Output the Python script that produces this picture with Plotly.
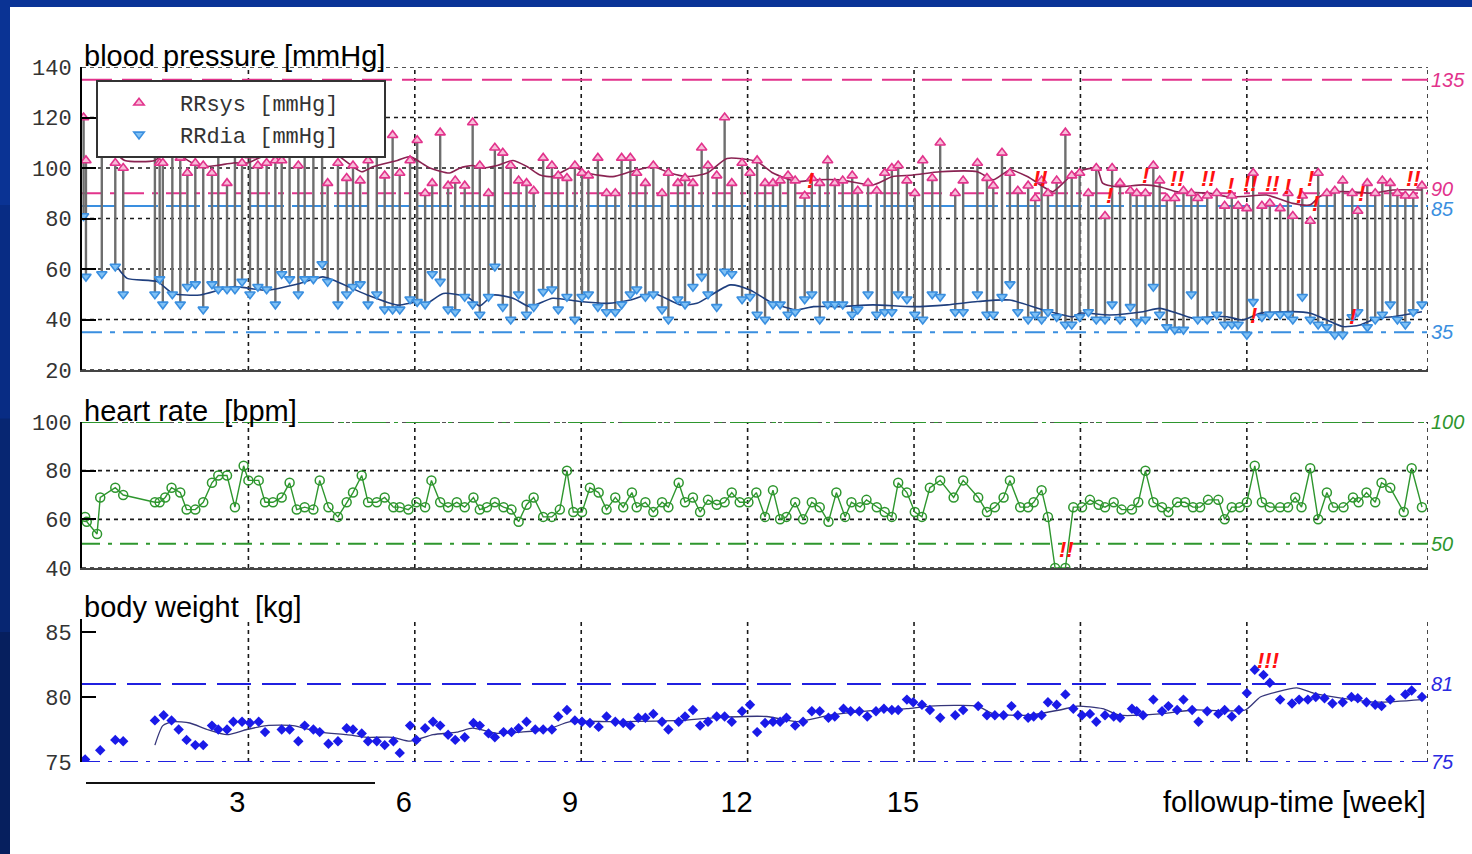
import plotly.graph_objects as go

# ---------------- data (days since start of follow-up) ----------------
bp_day = [0.2, 0.5, 2.5, 4.2, 5.2, 9.2, 9.8, 10.2, 11.4, 12.4,
          13.3, 14.3, 15.3, 16.4, 17.2, 18.3, 19.3, 20.2, 21.2, 22.2,
          23.3, 24.4, 25.2, 26.2, 27.3, 28.1, 29.2, 30.3, 31.0, 32.3,
          33.4, 34.2, 35.1, 36.1, 37.2, 38.2, 39.2, 40.1, 41.4, 42.3,
          43.3, 44.2, 45.2, 46.2, 47.1, 48.3, 49.3, 50.2, 51.3, 52.1,
          53.1, 54.1, 55.1, 56.1, 57.0, 58.2, 59.3, 60.1, 61.2, 62.2,
          63.1, 63.9, 65.1, 66.2, 67.3, 68.1, 69.2, 70.0, 71.1, 72.1,
          73.2, 74.0, 75.2, 76.1, 77.1, 78.2, 79.0, 80.1, 81.1, 82.0,
          83.3, 84.3, 85.2, 86.2, 87.2, 88.1, 89.1, 90.0, 91.2, 92.1,
          93.1, 94.1, 95.0, 96.0, 97.2, 97.9, 99.2, 100.3, 101.3, 102.2,
          103.0, 104.1, 105.1, 106.1, 107.3, 108.3, 110.2, 111.2, 113.0, 114.2,
          115.0, 116.1, 117.1, 118.1, 119.4, 120.3, 121.1, 121.9, 123.0, 124.1,
          124.9, 125.9, 127.0, 128.0, 129.1, 130.0, 131.0, 132.3, 133.1, 134.2,
          135.2, 136.0, 136.9, 137.9, 139.0, 140.0, 140.8, 142.0, 143.2, 144.2,
          145.1, 145.9, 147.0, 147.8, 148.9, 149.9, 151.2, 152.2, 152.8, 154.0,
          155.0, 156.0, 157.1, 158.1, 159.1, 160.3, 161.0, 162.2, 163.2, 164.1,
          165.1, 166.0, 167.0, 168.0, 169.1]
rr_sys = [120, 103, 106, 102, 100, 106, 102, 102, 108, 104,
          98, 102, 101, 98, 108, 94, 106, 102, 105, 101,
          102, 103, 103, 106, 101, 108, 110, 113, 94, 102,
          96, 101, 95, 103, 106, 97, 113, 98, 103, 111,
          90, 94, 114, 93, 95, 93, 118, 101, 90, 108,
          106, 101, 95, 94, 91, 104, 101, 97, 96, 101,
          98, 97, 104, 90, 90, 104, 104, 98, 94, 101,
          90, 98, 94, 96, 94, 108, 101, 97, 120, 94,
          102, 98, 103, 94, 94, 95, 97, 95, 89, 96,
          94, 103, 94, 95, 97, 91, 94, 91, 98, 100,
          101, 95, 90, 103, 96, 110, 90, 95, 102, 96,
          93, 106, 98, 91, 93, 88, 95, 90, 95, 114,
          97, 98, 90, 100, 81, 100, 94, 91, 90, 90,
          101, 95, 88, 88, 91, 90, 88, 89, 90, 85,
          89, 85, 84, 98, 85, 86, 84, 90, 81, 89,
          79, 98, 90, 91, 95, 90, 83, 94, 90, 95,
          94, 90, 89, 89, 93]
rr_dia = [81, 57, 58, 61, 50, 50, 56, 46, 50, 46,
          53, 54, 44, 54, 52, 52, 52, 55, 50, 53,
          52, 46, 58, 56, 50, 56, 56, 62, 55, 46,
          50, 53, 54, 46, 50, 44, 44, 44, 48, 47,
          46, 58, 55, 44, 43, 49, 46, 42, 49, 61,
          45, 40, 50, 42, 45, 51, 52, 44, 49, 40,
          49, 50, 45, 43, 43, 46, 50, 52, 49, 50,
          44, 40, 48, 46, 53, 57, 50, 45, 59, 58,
          48, 49, 42, 40, 46, 46, 42, 43, 48, 50,
          40, 46, 46, 46, 42, 44, 50, 42, 43, 43,
          50, 48, 42, 40, 50, 49, 43, 43, 50, 42,
          42, 49, 54, 43, 40, 42, 40, 43, 41, 38,
          38, 41, 43, 40, 40, 46, 40, 45, 39, 40,
          53, 42, 37, 36, 36, 50, 40, 40, 42, 38,
          38, 38, 34, 47, 41, 42, 42, 42, 40, 49,
          40, 38, 37, 34, 34, 41, 43, 37, 40, 42,
          46, 40, 38, 43, 46]

sys_trend_day = [4.2, 5.4, 9.2, 11.1, 12.6, 14.9, 17.0, 19.1, 20.9, 22.8,
                 27.5, 29.8, 31.7, 35.3, 36.7, 39.8, 41.4, 43.9, 46.4, 47.7,
                 49.3, 50.2, 52.4, 54.4, 56.2, 57.8, 59.4, 62.0, 63.7, 67.0,
                 69.2, 72.1, 74.2, 76.4, 78.9, 81.4, 85.2, 87.2, 90.2, 92.3,
                 95.7, 99.8, 102.3, 104.9, 108.3, 113.0, 115.0, 117.1, 119.3, 121.3,
                 122.5, 124.7, 126.3, 128.1, 128.8, 130.6, 133.9, 136.0, 138.2, 142.4,
                 144.5, 146.5, 149.5, 152.8, 155.0, 156.2, 157.9, 160.4, 162.9, 165.4,
                 169.1]
sys_trend = [106, 103, 103, 108, 104.5, 100.5, 101, 102, 102, 104.5,
             105, 109.7, 106.4, 98.5, 100.5, 103, 104.5, 100, 98, 100,
             101, 100, 101, 103, 100.5, 97.2, 96.6, 100.5, 98, 96.6,
             98.5, 100.5, 98, 96.6, 98, 103.8, 102.5, 98, 94.6, 95.3,
             95.3, 93.3, 96.6, 97.2, 98.5, 98.5, 95.3, 99.2, 96.6, 92.6,
             90.6, 96.6, 99.2, 99.9, 94, 92.6, 93.3, 92.6, 90.6, 90,
             88.7, 88.7, 89.3, 86, 85.4, 88.7, 90.6, 90.6, 90, 91.3,
             91.3]
dia_trend_day = [4.4, 5.7, 9.5, 11.5, 14.9, 19.1, 23.3, 27.5, 30.4, 31.7,
                 36.0, 39.8, 42.3, 43.5, 45.6, 48.6, 50.2, 51.9, 54.4, 56.5,
                 59.4, 62.8, 66.3, 69.2, 72.1, 75.5, 77.6, 81.8, 84.3, 87.2,
                 90.2, 92.3, 95.7, 99.8, 104.9, 109.2, 113.0, 117.1, 121.3, 125.1,
                 125.9, 129.7, 133.9, 136.0, 138.2, 140.2, 142.4, 144.5, 146.5, 148.7,
                 152.8, 155.0, 157.1, 159.1, 161.3, 163.4, 165.4, 169.1]
dia_trend = [61, 56.3, 55, 50.3, 49.7, 53, 51.6, 54.3, 56.9, 55.6,
             49.7, 45.7, 47, 46.4, 50.3, 49, 45.4, 49.7, 48.4, 45.1,
             48.4, 47.1, 46.4, 47.7, 50.4, 45.8, 46.4, 53.7, 51.7, 46.4,
             43.8, 45.1, 45.1, 45.8, 45.1, 45.8, 47.1, 47.7, 43.8, 41.1,
             42.5, 41.8, 43.1, 44.4, 42.5, 40.5, 41.1, 41.1, 39.8, 42.5,
             43.1, 42.5, 39.8, 37.2, 37.8, 40.5, 41.1, 43.1]

hr_day = [0.4, 0.6, 1.9, 2.3, 4.2, 5.2, 9.2, 9.8, 10.5, 11.3,
          12.4, 13.2, 14.3, 15.3, 16.4, 17.2, 18.3, 19.3, 20.4, 21.0,
          22.3, 23.1, 24.1, 25.2, 26.2, 27.1, 28.1, 29.2, 30.0, 31.1,
          32.3, 33.4, 34.2, 35.3, 36.1, 37.2, 38.2, 39.3, 40.1, 41.2,
          42.2, 43.3, 44.1, 45.2, 46.2, 47.3, 48.3, 49.4, 50.2, 51.1,
          52.1, 53.2, 54.2, 55.1, 56.1, 57.0, 58.2, 59.3, 60.3, 61.2,
          62.0, 63.1, 64.1, 65.2, 66.2, 67.3, 68.3, 69.4, 70.0, 71.1,
          72.1, 73.2, 74.0, 75.3, 76.1, 77.1, 78.0, 79.0, 80.1, 81.1,
          82.0, 83.0, 84.1, 85.1, 86.2, 87.2, 88.1, 88.9, 90.0, 91.0,
          92.1, 93.1, 94.2, 95.2, 96.3, 97.1, 98.2, 99.0, 100.3, 101.3,
          102.2, 103.0, 104.1, 105.1, 106.0, 107.0, 108.3, 110.0, 111.2, 113.1,
          114.2, 115.2, 116.3, 117.1, 118.4, 119.4, 120.1, 121.1, 121.9, 122.8,
          124.1, 125.1, 126.2, 127.2, 128.3, 129.1, 130.2, 131.2, 132.5, 133.3,
          134.2, 135.2, 136.3, 137.1, 138.2, 139.2, 140.2, 141.1, 142.1, 143.4,
          144.2, 145.1, 146.1, 147.0, 148.0, 148.9, 149.9, 151.2, 152.2, 153.1,
          153.9, 155.0, 156.0, 157.1, 157.9, 159.2, 160.4, 161.1, 162.1, 163.2,
          164.0, 165.1, 166.8, 167.8, 169.1]
hr_bpm = [61, 59, 54, 69, 73, 70, 67, 67, 69, 73,
          71, 64, 64, 67, 75, 78, 78, 65, 82, 76,
          76, 67, 67, 69, 75, 64, 65, 64, 76, 65,
          61, 67, 71, 78, 67, 67, 69, 65, 65, 64,
          67, 65, 76, 67, 65, 67, 65, 69, 64, 65,
          67, 65, 64, 59, 66, 69, 61, 61, 64, 80,
          63, 63, 73, 71, 64, 69, 65, 71, 65, 67,
          63, 67, 65, 75, 67, 69, 63, 68, 66, 67,
          71, 67, 67, 71, 61, 72, 60, 61, 67, 60,
          67, 65, 59, 71, 61, 67, 65, 68, 65, 63,
          61, 75, 71, 63, 61, 73, 76, 69, 76, 69,
          63, 65, 69, 76, 65, 65, 67, 72, 61, 40,
          40, 65, 65, 68, 66, 65, 67, 64, 64, 67,
          80, 67, 65, 63, 67, 67, 65, 65, 68, 68,
          60, 65, 65, 67, 82, 67, 65, 65, 65, 69,
          65, 81, 60, 71, 65, 65, 69, 67, 71, 67,
          75, 73, 63, 81, 65]

wt_day = [0.4, 2.3, 4.2, 5.2, 9.2, 10.3, 11.3, 12.2, 13.2, 14.3,
          15.3, 16.4, 17.2, 18.3, 19.1, 20.2, 21.2, 22.3, 23.1, 25.2,
          26.2, 27.3, 28.1, 29.2, 30.0, 31.1, 32.3, 33.4, 34.2, 35.3,
          36.1, 37.2, 38.2, 39.3, 40.1, 41.4, 42.2, 43.3, 44.3, 45.2,
          46.2, 47.1, 48.3, 49.4, 50.2, 51.3, 52.1, 53.2, 54.2, 55.1,
          56.1, 57.2, 58.2, 59.3, 60.1, 61.2, 62.2, 63.1, 64.1, 65.2,
          66.2, 67.3, 68.3, 69.2, 70.2, 71.1, 72.1, 73.2, 74.0, 75.3,
          76.1, 77.1, 78.0, 79.0, 80.1, 81.1, 82.0, 83.3, 84.3, 85.2,
          86.2, 87.2, 88.1, 88.9, 90.0, 91.0, 92.1, 93.1, 94.2, 95.0,
          96.1, 97.0, 98.1, 99.1, 100.2, 101.2, 102.2, 103.0, 104.1, 104.9,
          106.0, 107.0, 108.3, 110.2, 111.2, 113.1, 114.2, 115.2, 116.3, 117.3,
          118.1, 119.4, 120.1, 121.1, 121.9, 123.0, 124.1, 125.1, 126.2, 127.2,
          128.0, 129.1, 130.2, 131.0, 132.5, 133.1, 133.9, 135.2, 136.3, 137.1,
          138.2, 139.0, 140.1, 140.9, 142.0, 143.4, 144.2, 145.1, 146.0, 147.0,
          148.0, 149.1, 149.9, 151.2, 152.7, 153.6, 154.7, 155.7, 156.8, 157.8,
          159.1, 160.2, 161.0, 162.1, 163.2, 164.0, 165.1, 167.0, 167.8, 169.1]
wt_kg = [75.2, 75.9, 76.7, 76.6, 78.2, 78.6, 78.2, 77.5, 76.7, 76.3,
         76.3, 77.8, 77.5, 77.5, 78.1, 78.1, 78.0, 78.1, 77.3, 77.5,
         77.5, 76.6, 77.8, 77.5, 77.3, 76.4, 76.6, 77.6, 77.5, 77.2,
         76.6, 76.6, 76.3, 76.6, 75.7, 77.8, 76.7, 77.6, 78.1, 77.8,
         77.1, 76.7, 76.9, 78.0, 77.8, 77.2, 76.9, 77.3, 77.3, 77.6,
         78.1, 77.5, 77.5, 77.5, 78.5, 79.0, 78.2, 78.1, 78.0, 77.7,
         78.5, 78.1, 78.0, 77.8, 78.4, 78.4, 78.7, 78.1, 77.5, 78.1,
         78.5, 79.0, 77.8, 78.1, 78.5, 78.5, 78.1, 78.9, 79.4, 77.3,
         78.0, 78.1, 78.1, 78.4, 77.8, 78.1, 78.9, 78.9, 78.4, 78.5,
         79.1, 78.9, 78.9, 78.5, 78.9, 79.1, 79.0, 79.0, 79.8, 79.6,
         79.4, 79.0, 78.4, 78.6, 79.0, 79.3, 78.6, 78.6, 78.6, 79.3,
         78.6, 78.4, 78.5, 78.6, 79.6, 79.4, 80.2, 79.1, 78.6, 78.7,
         78.1, 78.6, 78.5, 78.4, 79.1, 78.9, 78.6, 79.8, 78.9, 79.3,
         79.0, 79.8, 79.0, 78.1, 78.9, 78.7, 79.0, 78.5, 79.0, 80.3,
         82.1, 81.7, 81.1, 79.8, 79.5, 79.8, 79.8, 80.0, 79.9, 79.5,
         79.6, 80.0, 79.9, 79.6, 79.4, 79.3, 79.8, 80.2, 80.5, 80.0]
wt_trend_day = [9.2, 10.2, 11.5, 13.6, 15.8, 18.3, 20.8, 23.3, 26.6, 30.0,
                33.4, 36.0, 39.2, 41.4, 44.3, 47.3, 49.3, 52.4, 55.3, 58.7,
                61.6, 67.0, 75.5, 79.6, 86.4, 90.2, 94.4, 98.6, 104.1, 107.0,
                113.0, 115.0, 119.3, 123.4, 125.6, 128.8, 131.0, 136.0, 140.2, 146.8,
                148.7, 150.8, 153.3, 155.4, 159.1, 163.4, 169.1]
wt_trend = [76.3, 77.8, 78.1, 78.0, 77.5, 77.1, 77.5, 77.8, 77.8, 77.3,
            77.1, 76.9, 76.9, 76.6, 77.1, 77.3, 77.6, 77.2, 77.3, 77.5,
            78.1, 78.1, 78.2, 78.4, 78.5, 78.1, 78.6, 78.9, 79.1, 79.3,
            79.3, 78.7, 78.6, 79.0, 79.3, 79.1, 78.6, 78.7, 79.0, 79.0,
            80.0, 80.4, 80.7, 80.3, 79.9, 79.6, 79.8]

# alert marks ("!") : day, value, text
bp_alert_day = [91.9, 120.9, 129.7, 134.2, 138.3, 142.1, 144.9, 147.4, 150.2,
                152.1, 153.7, 155.0, 155.7, 161.5, 168.0, 147.8, 160.3]
bp_alert_val = [95, 96, 89, 97, 96, 96, 93, 94, 94, 92.5, 89, 96, 86, 90, 96, 41.4, 41]
bp_alert_txt = ["!", "!!", "!", "!", "!!", "!!", "!", "!!", "!!", "!", "!", "!", "!",
                "!", "!!", "!", "!"]
hr_alert_day, hr_alert_val, hr_alert_txt = [124.2], [47.4], ["!!"]
wt_alert_day, wt_alert_val, wt_alert_txt = [149.7], [82.8], ["!!!"]

# limits
bp_limits = [135, 90, 85, 35]
hr_limits = [100, 50]
wt_limits = [81, 75]

week_ticks = [3, 6, 9, 12, 15]
grid_weeks = [3, 6, 9, 12, 15, 18, 21]

assert len(bp_day) == len(rr_sys) == len(rr_dia)
assert len(hr_day) == len(hr_bpm)
assert len(wt_day) == len(wt_kg)

# ---------------- layout geometry ----------------
W, H = 1472, 854
L, R = 82, 44
PW = W - L - R
XMAX = 24.266  # weeks at right border


def wk(days):
    return [d / 7.0 for d in days]


def py(p):
    return (H - p) / H


def px(p):
    return (p - L) / PW


dom_bp = [py(370), py(67)]
dom_hr = [py(568), py(422)]
dom_wt = [py(762), py(619)]

PINK = "#e2338c"
LBLUE = "#3a8fe0"
GREEN = "#2e962e"
DBLUE = "#1a1ae8"
SANS = "Liberation Sans, Arial, sans-serif"
MONO = "Liberation Mono, Courier New, monospace"
PAD = "\u00a0\u00a0\u00a0"  # keeps the legend box as wide as in the original

fig = go.Figure()

# stems from diastolic to systolic
sx, sy = [], []
for d, s, di in zip(wk(bp_day), rr_sys, rr_dia):
    sx += [d, d, None]
    sy += [di, s, None]
fig.add_trace(go.Scatter(x=sx, y=sy, mode="lines", line=dict(color="#6e6e6e", width=2.4),
                         showlegend=False, hoverinfo="skip", xaxis="x", yaxis="y"))
fig.add_trace(go.Scatter(x=wk(sys_trend_day), y=sys_trend, mode="lines",
                         line=dict(color="#8a2352", width=1.6, shape="spline", smoothing=0.6),
                         showlegend=False, xaxis="x", yaxis="y"))
fig.add_trace(go.Scatter(x=wk(dia_trend_day), y=dia_trend, mode="lines",
                         line=dict(color="#1f3f7e", width=1.6, shape="spline", smoothing=0.6),
                         showlegend=False, xaxis="x", yaxis="y"))
fig.add_trace(go.Scatter(x=wk(bp_day), y=rr_sys, mode="markers", name="RRsys [mmHg]" + PAD,
                         marker=dict(symbol="triangle-up", size=9, color="#f7bcd8",
                                     line=dict(color=PINK, width=1.6)),
                         xaxis="x", yaxis="y"))
fig.add_trace(go.Scatter(x=wk(bp_day), y=rr_dia, mode="markers", name="RRdia [mmHg]" + PAD,
                         marker=dict(symbol="triangle-down", size=9, color="#7fc0f4",
                                     line=dict(color=LBLUE, width=1.6)),
                         xaxis="x", yaxis="y"))

# heart rate
fig.add_trace(go.Scatter(x=wk(hr_day), y=hr_bpm, mode="lines+markers",
                         line=dict(color=GREEN, width=1.4),
                         marker=dict(symbol="circle-open", size=9, color=GREEN, line=dict(width=1.5)),
                         showlegend=False, xaxis="x2", yaxis="y2", cliponaxis=True))

# body weight
fig.add_trace(go.Scatter(x=wk(wt_trend_day), y=wt_trend, mode="lines",
                         line=dict(color="#35357a", width=1.3, shape="spline", smoothing=0.6),
                         showlegend=False, xaxis="x3", yaxis="y3"))
fig.add_trace(go.Scatter(x=wk(wt_day), y=wt_kg, mode="markers",
                         marker=dict(symbol="diamond", size=8, color=DBLUE),
                         showlegend=False, xaxis="x3", yaxis="y3"))

shapes = []
# background frame
shapes.append(dict(type="rect", xref="paper", yref="paper", x0=px(10), x1=px(W) + 0.01,
                   y0=-0.01, y1=py(7), fillcolor="white", line=dict(width=0), layer="below"))
left_cols = ["#0a3394", "#082c84", "#072672", "#061f5e"]
for i, c in enumerate(left_cols):
    shapes.append(dict(type="rect", xref="paper", yref="paper", x0=px(0) - 0.01, x1=px(10),
                       y0=1 - (i + 1) / 4 - 0.01, y1=1 - i / 4 + 0.01, fillcolor=c,
                       line=dict(width=0), layer="below"))

GRID = dict(color="#1a1a1a", width=1.6, dash="4px,4px")
# horizontal grid lines
for yref, vals in (("y", [20, 40, 60, 80, 100, 120, 140]), ("y2", [40, 60, 80, 100])):
    for v in vals:
        shapes.append(dict(type="line", xref=yref.replace("y", "x") + " domain",
                           yref=yref, x0=0, x1=1, y0=v, y1=v, line=GRID, layer="below"))
# vertical grid lines
for ax in ("", "2", "3"):
    for w in grid_weeks + [XMAX]:
        shapes.append(dict(type="line", xref="x" + ax, yref="y" + ax + " domain",
                           x0=w, x1=w, y0=0, y1=1, line=GRID, layer="below"))

# limit lines
bp_styles = {135: (PINK, "30px,10px"), 90: (PINK, "20px,8px,6px,8px"),
             85: (LBLUE, "34px,8px"), 35: (LBLUE, "20px,8px,5px,8px")}
for v in bp_limits:
    c, d = bp_styles[v]
    shapes.append(dict(type="line", xref="x domain", yref="y", x0=0, x1=1, y0=v, y1=v,
                       line=dict(color=c, width=2, dash=d), layer="below"))
hr_styles = {100: "34px,8px,4px,8px", 50: "18px,8px,4px,8px"}
for v in hr_limits:
    shapes.append(dict(type="line", xref="x2 domain", yref="y2", x0=0, x1=1, y0=v, y1=v,
                       line=dict(color=GREEN, width=2, dash=hr_styles[v]), layer="below"))
wt_styles = {81: "34px,11px", 75: "18px,8px,4px,8px"}
for v in wt_limits:
    shapes.append(dict(type="line", xref="x3 domain", yref="y3", x0=0, x1=1, y0=v, y1=v,
                       line=dict(color="#2020e0", width=2, dash=wt_styles[v]), layer="below"))

# decorative rule below weight panel
shapes.append(dict(type="line", xref="paper", yref="paper", x0=px(86), x1=px(375),
                   y0=py(783), y1=py(783), line=dict(color="#111", width=2)))

annotations = []
# panel titles
for text, yp in (("blood pressure [mmHg]", 56), ("heart rate\u00a0\u00a0[bpm]", 411),
                 ("body weight\u00a0\u00a0[kg]", 607)):
    annotations.append(dict(text=text, xref="paper", yref="paper", x=0, y=py(yp),
                            xanchor="left", yanchor="middle", showarrow=False,
                            font=dict(family=SANS, size=29, color="black")))
annotations.append(dict(text="followup-time [week]", xref="paper", yref="paper", x=1,
                        y=py(802), xanchor="right", yanchor="middle", showarrow=False,
                        font=dict(family=SANS, size=29, color="black")))

# limit labels at the right
lim_colors = [("y", bp_limits, {135: PINK, 90: PINK, 85: LBLUE, 35: LBLUE}),
              ("y2", hr_limits, {100: GREEN, 50: GREEN}),
              ("y3", wt_limits, {81: "#2a2ae0", 75: "#2a2ae0"})]
lim_shift = {90: 4, 85: -3}
for yref, vals, cols in lim_colors:
    for v in vals:
        ys = lim_shift.get(v, 0) if yref == "y" else 0
        annotations.append(dict(text=str(v), xref=yref.replace("y", "x"), yref=yref,
                                x=XMAX, y=v, xanchor="left", yanchor="middle", xshift=1,
                                yshift=ys, showarrow=False,
                                font=dict(family=SANS, size=20, color=cols[v], style="italic")))

# alert marks
for yref, days, vals, txts in (("y", bp_alert_day, bp_alert_val, bp_alert_txt),
                               ("y2", hr_alert_day, hr_alert_val, hr_alert_txt),
                               ("y3", wt_alert_day, wt_alert_val, wt_alert_txt)):
    for d, v, t in zip(wk(days), vals, txts):
        annotations.append(dict(text=t, xref=yref.replace("y", "x"), yref=yref, x=d, y=v,
                                showarrow=False,
                                font=dict(family=SANS, size=22, color="#ff1010",
                                          weight="bold", style="italic")))

yax_common = dict(showgrid=False, zeroline=False, showline=True, linecolor="black",
                  linewidth=2, ticks="inside", ticklen=14, tickwidth=2, tickcolor="black",
                  tickfont=dict(family=MONO, size=22, color="#333"), ticklabelstandoff=4)
xax_common = dict(range=[0, XMAX], showgrid=False, zeroline=False, domain=[0, 1])

fig.update_layout(
    width=W, height=H,
    margin=dict(l=L, r=R, t=0, b=0, autoexpand=False),
    paper_bgcolor="#0a3497",
    plot_bgcolor="rgba(0,0,0,0)",
    shapes=shapes,
    annotations=annotations,
    showlegend=True,
    legend=dict(x=px(96), y=py(80), xanchor="left", yanchor="top", bgcolor="white",
                bordercolor="#333", borderwidth=2, itemwidth=72,
                font=dict(family=MONO, size=22, color="#333"), tracegroupgap=0),
    xaxis=dict(anchor="y", showticklabels=False, showline=True, linecolor="#444",
               linewidth=2, **xax_common),
    xaxis2=dict(anchor="y2", showticklabels=False, showline=True, linecolor="#444",
                linewidth=2, **xax_common),
    xaxis3=dict(anchor="y3", showline=False, tickmode="array",
                tickvals=[w - 0.2 for w in week_ticks], ticktext=[str(w) for w in week_ticks],
                ticks="", ticklabelstandoff=20,
                tickfont=dict(family=SANS, size=29, color="black"), **xax_common),
    yaxis=dict(domain=dom_bp, range=[20, 140], tickvals=[20, 40, 60, 80, 100, 120, 140],
               anchor="x", **yax_common),
    yaxis2=dict(domain=dom_hr, range=[40, 100], tickvals=[40, 60, 80, 100],
                anchor="x2", **yax_common),
    yaxis3=dict(domain=dom_wt, range=[75, 86], tickvals=[75, 80, 85],
                anchor="x3", **yax_common),
)

fig.write_html("out.html", config={"displayModeBar": False},
               post_script="document.body.style.margin='0px';"
                           "document.body.style.backgroundColor='#0a3497';")
